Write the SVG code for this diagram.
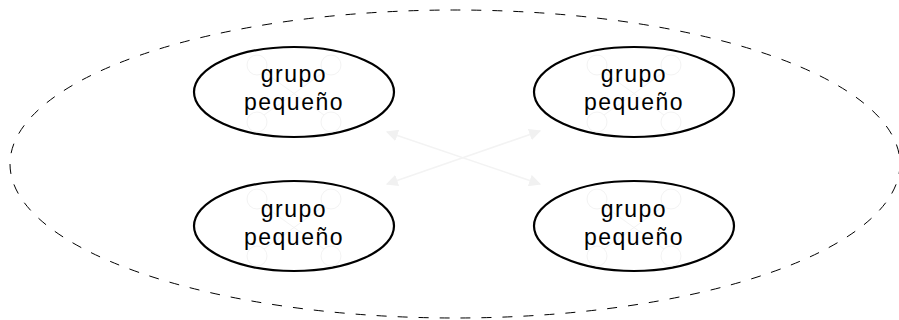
<svg xmlns="http://www.w3.org/2000/svg" width="899" height="320" viewBox="0 0 899 320">
  <defs>
    <style>
      .group-outline { fill: none; stroke: #000; stroke-width: 1; stroke-dasharray: 10 11; }
      .node-shape { fill: #fff; stroke: #000; stroke-width: 2.2; }
      .node-label { font-family: "Liberation Sans", Arial, sans-serif; font-size: 23px; letter-spacing: 1.5px; fill: #000; text-anchor: middle; }
      .link { fill: none; stroke: #f3f3f3; stroke-width: 1.5; marker-start: url(#arrow); marker-end: url(#arrow); }
      .icon { fill: none; stroke: #f3f3f3; stroke-width: 1; }
    </style>
    <marker id="arrow" viewBox="0 0 10 10" refX="9" refY="5" markerWidth="8" markerHeight="8" orient="auto-start-reverse">
      <path d="M0,0 L10,5 L0,10 z" fill="#f1f1f1"/>
    </marker>
    <!-- faint quadcopter watermark drawn behind each label -->
    <g id="quad" class="icon">
      <circle cx="-37" cy="-28" r="10"/>
      <circle cx="37" cy="-28" r="10"/>
      <circle cx="-37" cy="29" r="10"/>
      <circle cx="37" cy="29" r="10"/>
      <line x1="-30" y1="-21" x2="30" y2="22"/>
      <line x1="30" y1="-21" x2="-30" y2="22"/>
    </g>
  </defs>

  <rect width="899" height="320" fill="#fff"/>

  <!-- outer dashed boundary -->
  <ellipse class="group-outline" cx="455" cy="164" rx="445" ry="154"/>

  <!-- connectors -->
  <g id="connectors">
    <line class="link" x1="387" y1="132" x2="540" y2="184"/>
    <line class="link" x1="387" y1="184" x2="540" y2="131"/>
  </g>

  <g id="node-top-left">
    <ellipse class="node-shape" cx="294" cy="92" rx="100" ry="45"/>
    <use href="#quad" x="294" y="93"/>
    <text class="node-label" x="294" y="82">grupo</text>
    <text class="node-label" x="294" y="110">pequeño</text>
  </g>

  <g id="node-top-right">
    <ellipse class="node-shape" cx="634" cy="92" rx="100" ry="45"/>
    <use href="#quad" x="634" y="93"/>
    <text class="node-label" x="634" y="82">grupo</text>
    <text class="node-label" x="634" y="110">pequeño</text>
  </g>

  <g id="node-bottom-left">
    <ellipse class="node-shape" cx="294" cy="226" rx="100" ry="45"/>
    <use href="#quad" x="294" y="227"/>
    <text class="node-label" x="294" y="217">grupo</text>
    <text class="node-label" x="294" y="245">pequeño</text>
  </g>

  <g id="node-bottom-right">
    <ellipse class="node-shape" cx="634" cy="226" rx="100" ry="45"/>
    <use href="#quad" x="634" y="227"/>
    <text class="node-label" x="634" y="217">grupo</text>
    <text class="node-label" x="634" y="245">pequeño</text>
  </g>
</svg>
